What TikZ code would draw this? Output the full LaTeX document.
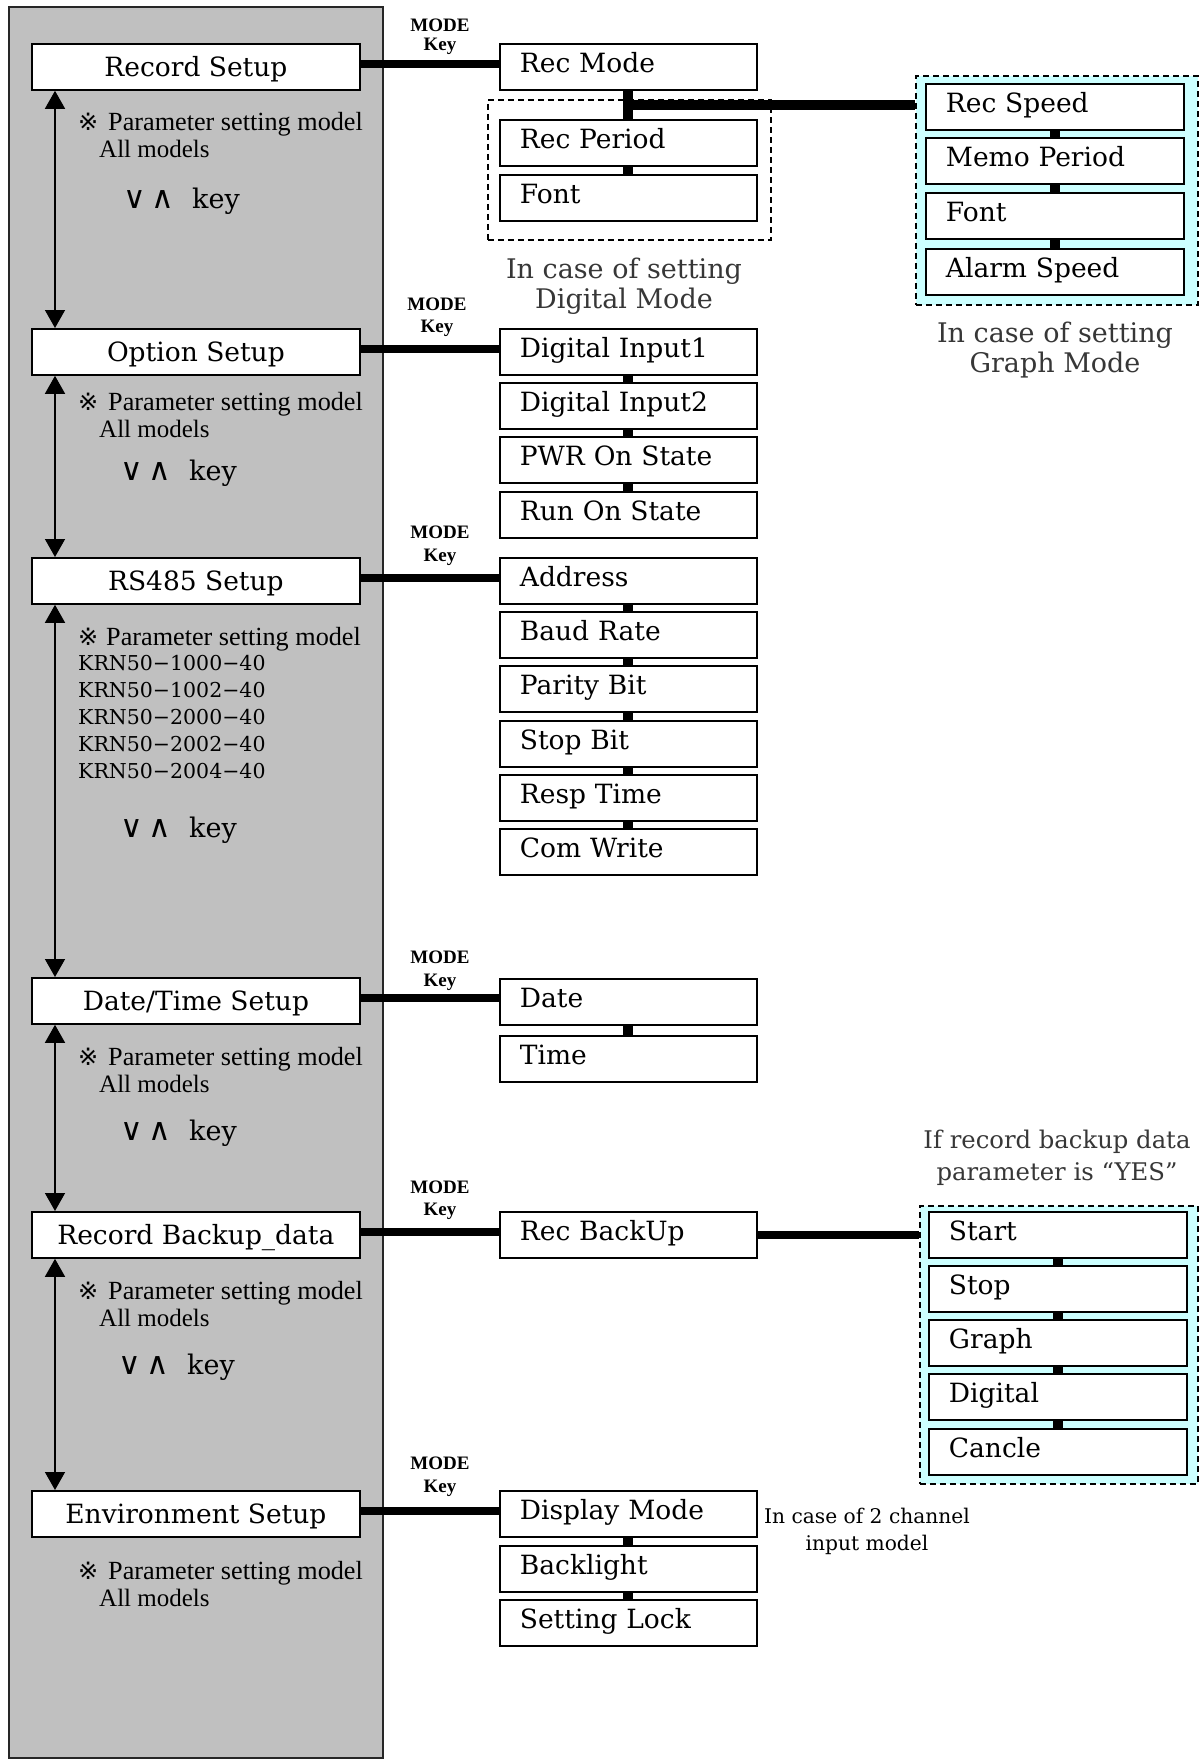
\documentclass[tikz,border=0pt]{standalone}
\usepackage{fontspec}
\setmainfont{DejaVu Serif}
\newfontfamily\tnr{Liberation Serif}
\newfontfamily\djs{DejaVu Sans}
\usetikzlibrary{arrows.meta,calc}
\definecolor{panelgray}{RGB}{192,192,192}
\definecolor{lcyan}{RGB}{204,255,255}
\definecolor{capgray}{RGB}{55,55,55}
\begin{document}
\begin{tikzpicture}[x=1pt,y=-1pt,
  lbox/.style={draw, line width=1.8pt, fill=white, minimum width=328pt, minimum height=46pt,
    inner sep=0pt, anchor=north west, text height=20pt, text depth=0.6pt,
    font=\fontsize{26.5}{30}\selectfont},
  mbox/.style={draw, line width=1.8pt, fill=white, minimum width=257pt, minimum height=46pt,
    inner xsep=20pt, inner ysep=0pt, anchor=north west, text width=217pt, align=left,
    text height=20pt, text depth=8pt, font=\fontsize{26.5}{30}\selectfont},
  rbox/.style={mbox, minimum width=258pt, text width=218pt},
  hconn/.style={line width=8pt},
  vconn/.style={line width=10pt},
  updown/.style={line width=1.5pt, {Triangle[length=18pt,width=20pt]}-{Triangle[length=18pt,width=20pt]}},
  dgrp/.style={draw, line width=1.5pt, dash pattern=on 6pt off 4pt, anchor=north west, inner sep=0pt},
  ltxt/.style={anchor=base west, inner sep=0pt, font=\tnr\fontsize{25}{25}\selectfont},
  psmtxt/.style={anchor=base west, inner sep=0pt, font=\tnr\fontsize{26.2}{26}\selectfont},
  kmodel/.style={anchor=base west, inner sep=0pt, font=\fontsize{20.5}{20}\selectfont},
  refmark/.style={anchor=base west, inner sep=0pt, font=\djs\fontsize{24}{24}\selectfont},
  vglyph/.style={anchor=base west, inner sep=0pt, font=\djs\fontsize{31}{31}\selectfont},
  keytxt/.style={anchor=base west, inner sep=0pt, font=\fontsize{27}{27}\selectfont},
  modelbl/.style={anchor=base, inner sep=0pt, font=\tnr\bfseries\fontsize{19}{19}\selectfont},
  capbig/.style={anchor=base, inner sep=0pt, text=capgray, font=\fontsize{27}{27}\selectfont},
  capmid/.style={anchor=base, inner sep=0pt, text=capgray, font=\fontsize{24.3}{24}\selectfont},
  capsmall/.style={anchor=base, inner sep=0pt, font=\fontsize{20.2}{20}\selectfont}
]
\useasboundingbox (0,0) rectangle (1200,1764);

% grey panel
\node[draw=black!85, line width=2pt, fill=panelgray, anchor=north west, inner sep=0pt,
      minimum width=374pt, minimum height=1751pt] (panel) at (8,6) {};

% group frames
\node[dgrp, minimum width=283pt, minimum height=140pt] (dgroup) at (487,99) {};
\node[dgrp, fill=lcyan, minimum width=282pt, minimum height=229pt] (ggroup) at (915,75) {};
\node[dgrp, fill=lcyan, minimum width=278pt, minimum height=278pt] (bgroup) at (919,1205) {};

% left boxes
\node[lbox] (recsetup) at (31,43) {Record Setup};
\node[lbox] (optsetup) at (31,328) {Option Setup};
\node[lbox] (rssetup) at (31,557) {RS485 Setup};
\node[lbox] (dtsetup) at (31,977) {Date/Time Setup};
\node[lbox] (rbsetup) at (31,1211) {Record Backup\_data};
\node[lbox] (envsetup) at (31,1490) {Environment Setup};

% middle boxes
\node[mbox] (recmode) at (499,43) {Rec Mode};
\node[mbox] (recperiod) at (499,119) {Rec Period};
\node[mbox] (fonta) at (499,174) {Font};
\node[mbox] (din1) at (499,328) {Digital Input1};
\node[mbox] (din2) at (499,382) {Digital Input2};
\node[mbox] (pwr) at (499,436) {PWR On State};
\node[mbox] (run) at (499,491) {Run On State};
\node[mbox] (addr) at (499,557) {Address};
\node[mbox] (baud) at (499,611) {Baud Rate};
\node[mbox] (parity) at (499,665) {Parity Bit};
\node[mbox] (stopbit) at (499,720) {Stop Bit};
\node[mbox] (resp) at (499,774) {Resp Time};
\node[mbox] (comw) at (499,828) {Com Write};
\node[mbox] (date) at (499,978) {Date};
\node[mbox] (time) at (499,1035) {Time};
\node[mbox] (recbk) at (499,1211) {Rec BackUp};
\node[mbox] (dispm) at (499,1490) {Display Mode};
\node[mbox] (backl) at (499,1545) {Backlight};
\node[mbox] (slock) at (499,1599) {Setting Lock};

% graph mode boxes
\node[rbox] (recspeed) at (925,83) {Rec Speed};
\node[rbox] (memo) at (925,137) {Memo Period};
\node[rbox] (fontb) at (925,192) {Font};
\node[rbox] (alarm) at (925,248) {Alarm Speed};

% backup boxes
\node[rbox] (bstart) at (928,1211) {Start};
\node[rbox] (bstop) at (928,1265) {Stop};
\node[rbox] (bgraph) at (928,1319) {Graph};
\node[rbox] (bdig) at (928,1373) {Digital};
\node[rbox] (bcancel) at (928,1428) {Cancle};

% horizontal MODE connectors
\draw[hconn] ([yshift=3pt]recsetup.east) -- ([yshift=3pt]recsetup.east -| recmode.west);
\draw[hconn] ([yshift=3pt]optsetup.east) -- ([yshift=3pt]optsetup.east -| din1.west);
\draw[hconn] ([yshift=3pt]rssetup.east) -- ([yshift=3pt]rssetup.east -| addr.west);
\draw[hconn] ([yshift=3pt]dtsetup.east) -- ([yshift=3pt]dtsetup.east -| date.west);
\draw[hconn] ([yshift=3pt]rbsetup.east) -- ([yshift=3pt]rbsetup.east -| recbk.west);
\draw[hconn] ([yshift=3pt]envsetup.east) -- ([yshift=3pt]envsetup.east -| dispm.west);
\draw[hconn] (recbk.east) -- (recbk.east -| bgroup.west);

% Rec Mode branch
\draw[vconn] (recmode.south) -- (recperiod.north);
\coordinate (jn) at ($(recmode.south)!0.5!(recperiod.north)$);
\draw[line width=10pt] ([xshift=-5pt]jn) -- (jn -| ggroup.west);

% stack connectors
\foreach \a/\b in {recperiod/fonta, din1/din2, din2/pwr, pwr/run, addr/baud, baud/parity,
  parity/stopbit, stopbit/resp, resp/comw, date/time, dispm/backl, backl/slock,
  recspeed/memo, memo/fontb, fontb/alarm, bstart/bstop, bstop/bgraph, bgraph/bdig, bdig/bcancel}
  \draw[vconn] (\a.south) -- (\b.north);

% up/down arrows
\coordinate (ax) at (55,0);
\draw[updown] (recsetup.south -| ax) -- (optsetup.north -| ax);
\draw[updown] (optsetup.south -| ax) -- (rssetup.north -| ax);
\draw[updown] (rssetup.south -| ax) -- (dtsetup.north -| ax);
\draw[updown] (dtsetup.south -| ax) -- (rbsetup.north -| ax);
\draw[updown] (rbsetup.south -| ax) -- (envsetup.north -| ax);

% MODE Key labels
\foreach \n/\xm/\ym/\yk in {1/440/31/50, 2/437/310/332, 3/440/538/561, 4/440/963/986, 5/440/1193/1215, 6/440/1469/1492}{
  \node[modelbl] (mode\n) at (\xm,\ym) {MODE};
  \node[modelbl] (key\n) at (\xm,\yk) {Key};
}

% panel notes
\foreach \n/\yr/\ya in {1/130/157, 2/410/437, 4/1065/1092, 5/1299/1326, 6/1579/1606}{
  \node[refmark] (rm\n) at (78,\yr) {※};
  \node[psmtxt] (psm\n) at (108,\yr) {Parameter setting model};
  \node[ltxt] (all\n) at (99,\ya) {All models};
}
\node[refmark] (rm3) at (78,645) {※};
\node[psmtxt] (psm3) at (106,645) {Parameter setting model};
\node[kmodel] (krn1) at (78,670) {KRN50−1000−40};
\node[kmodel] (krn2) at (78,697) {KRN50−1002−40};
\node[kmodel] (krn3) at (78,724) {KRN50−2000−40};
\node[kmodel] (krn4) at (78,751) {KRN50−2002−40};
\node[kmodel] (krn5) at (78,778) {KRN50−2004−40};

\foreach \n/\xk/\yk in {1/123/208, 2/120/480, 3/120/837, 4/120/1140, 5/118/1374}{
  \node[vglyph] (vee\n) at (\xk,\yk) {∨};
  \node[vglyph] (wedge\n) at (\xk+28,\yk) {∧};
  \node[keytxt] (kk\n) at (\xk+69,\yk) {key};
}

% captions
\node[capbig] (c1a) at (624,278) {In case of setting};
\node[capbig] (c1b) at (624,308) {Digital Mode};
\node[capbig] (c2a) at (1055,342) {In case of setting};
\node[capbig] (c2b) at (1055,372) {Graph Mode};
\node[capmid] (c3a) at (1057,1148) {If record backup data};
\node[capmid] (c3b) at (1057,1180) {parameter is “YES”};
\node[capsmall] (c4a) at (867,1523) {In case of 2 channel};
\node[capsmall] (c4b) at (867,1550) {input model};
\end{tikzpicture}
\end{document}
